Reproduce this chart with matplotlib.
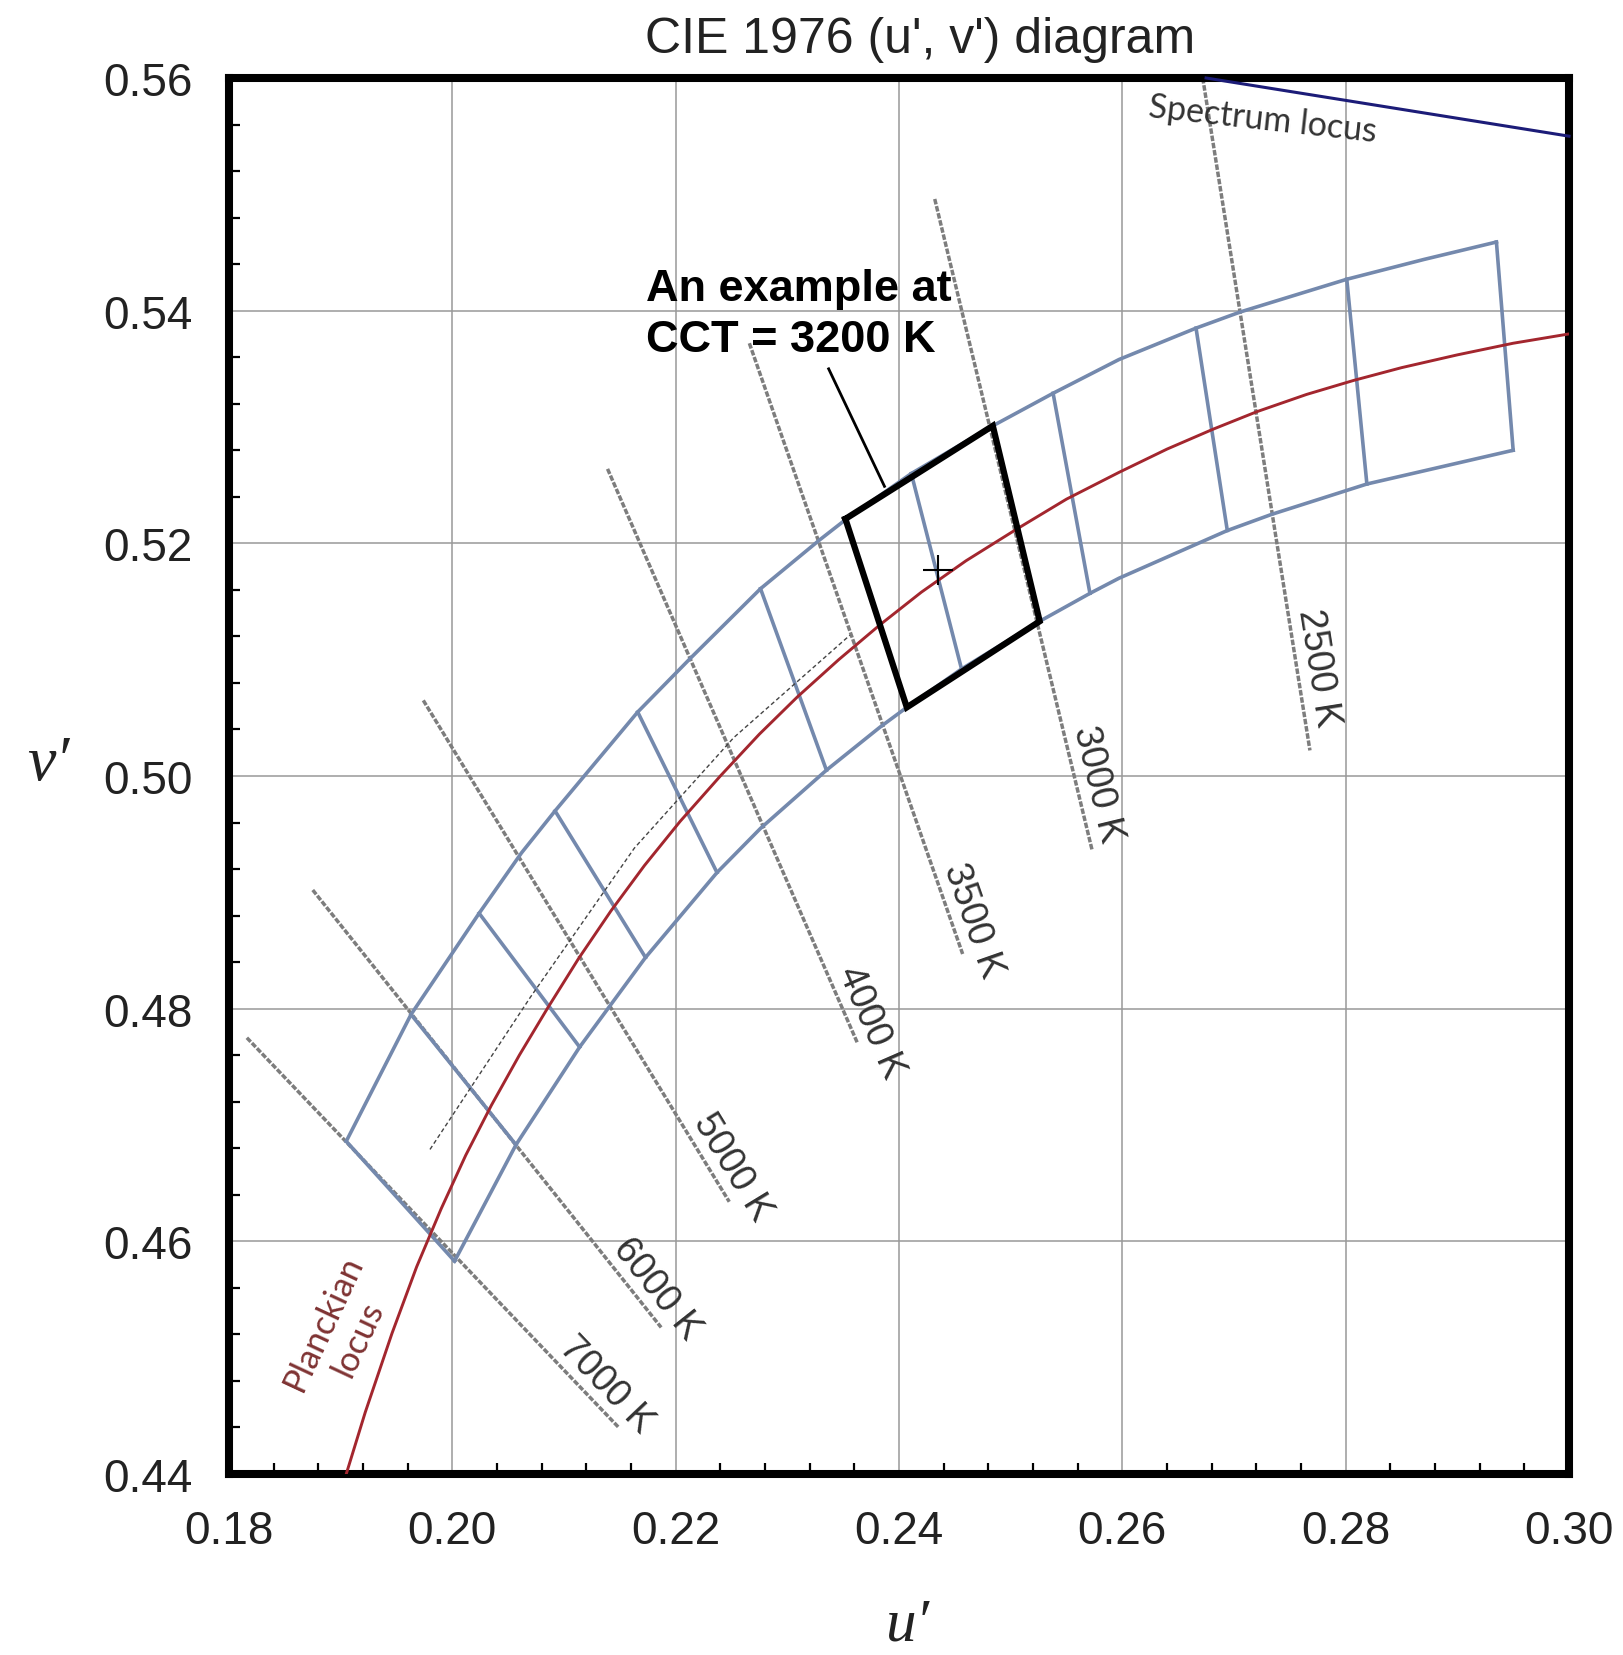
import numpy as np
import matplotlib
matplotlib.use('Agg')
import matplotlib.pyplot as plt
from matplotlib.ticker import MultipleLocator

# ---- data (u', v') ----
planck_u = [0.1905, 0.1922, 0.1946, 0.1968, 0.1990, 0.2012, 0.2035, 0.2060, 0.2085, 0.2113,
            0.2142, 0.2172, 0.2204, 0.2240, 0.2275, 0.2309, 0.2346, 0.2383, 0.2420, 0.2460,
            0.2505, 0.2550, 0.2597, 0.2640, 0.2681, 0.2720, 0.2765, 0.2807, 0.2850, 0.2900,
            0.2950, 0.3000]
planck_v = [0.4400, 0.4453, 0.4521, 0.4578, 0.4628, 0.4674, 0.4717, 0.4760, 0.4800, 0.4843,
            0.4884, 0.4923, 0.4961, 0.5000, 0.5036, 0.5068, 0.5100, 0.5130, 0.5158, 0.5185,
            0.5212, 0.5238, 0.5261, 0.5281, 0.5298, 0.5313, 0.5328, 0.5340, 0.5351, 0.5362,
            0.5372, 0.5380]

# thin dashed curve just above the Planckian locus
dash_u = [0.1980, 0.2070, 0.2163, 0.2252, 0.2356]
dash_v = [0.4679, 0.4810, 0.4938, 0.5033, 0.5121]

spectrum_u = [0.2675, 0.3000]
spectrum_v = [0.5600, 0.5550]

# quadrangle boundaries
upper_u = [0.1905, 0.1963, 0.2024, 0.2062, 0.2092, 0.2166, 0.2213, 0.2276, 0.2329, 0.2353,
           0.2411, 0.2484, 0.2538, 0.2597, 0.2666, 0.2706, 0.2801, 0.2870, 0.2935]
upper_v = [0.4686, 0.4795, 0.4882, 0.4934, 0.4970, 0.5055, 0.5101, 0.5161, 0.5203, 0.5221,
           0.5260, 0.5301, 0.5329, 0.5358, 0.5385, 0.5399, 0.5427, 0.5444, 0.5459]
lower_u = [0.2002, 0.2057, 0.2114, 0.2173, 0.2237, 0.2276, 0.2335, 0.2383, 0.2407, 0.2456,
           0.2526, 0.2571, 0.2597, 0.2694, 0.2734, 0.2819, 0.2950]
lower_v = [0.4583, 0.4683, 0.4767, 0.4844, 0.4917, 0.4955, 0.5005, 0.5042, 0.5059, 0.5092,
           0.5133, 0.5157, 0.5170, 0.5211, 0.5225, 0.5251, 0.5280]

# cross lines of the quadrangles (top end, bottom end)
cross_top_u = [0.1905, 0.1963, 0.2024, 0.2092, 0.2166, 0.2276, 0.2411, 0.2538, 0.2666, 0.2801, 0.2935]
cross_top_v = [0.4686, 0.4795, 0.4882, 0.4970, 0.5055, 0.5161, 0.5260, 0.5329, 0.5385, 0.5427, 0.5459]
cross_bot_u = [0.2002, 0.2057, 0.2114, 0.2173, 0.2237, 0.2335, 0.2456, 0.2571, 0.2694, 0.2819, 0.2950]
cross_bot_v = [0.4583, 0.4683, 0.4767, 0.4844, 0.4917, 0.5005, 0.5092, 0.5157, 0.5211, 0.5251, 0.5280]

# example quadrangle at CCT = 3200 K
box_u = [0.2352, 0.2484, 0.2526, 0.2407, 0.2352]
box_v = [0.5221, 0.5301, 0.5133, 0.5059, 0.5221]
center_u, center_v = 0.2435, 0.5177
pointer_u = [0.2337, 0.2387]
pointer_v = [0.5350, 0.5249]

# isotherms
iso_labels = ['2500 K', '3000 K', '3500 K', '4000 K', '5000 K', '6000 K', '7000 K']
iso_top_u = [0.2672, 0.2432, 0.2266, 0.2139, 0.1974, 0.1875, 0.1816]
iso_top_v = [0.5600, 0.5496, 0.5372, 0.5264, 0.5065, 0.4902, 0.4775]
iso_bot_u = [0.2768, 0.2573, 0.2457, 0.2363, 0.2248, 0.2187, 0.2149]
iso_bot_v = [0.5022, 0.4936, 0.4847, 0.4770, 0.4634, 0.4526, 0.4440]
# distance (px) from the lower end of each isotherm back to the start of its label
iso_label_back = [140, 123, 88, 74, 88, 93, 100]

xticks = [0.18, 0.20, 0.22, 0.24, 0.26, 0.28, 0.30]
yticks = [0.44, 0.46, 0.48, 0.50, 0.52, 0.54, 0.56]

fig = plt.figure(figsize=(16.24, 16.56), dpi=100)
ax = fig.add_axes([229 / 1624, 1 - 1475 / 1656, 1340 / 1624, 1396 / 1656])
ax.set_xlim(0.18, 0.30)
ax.set_ylim(0.44, 0.56)

sans = 'Liberation Sans'
quad_color = '#7489ad'
iso_color = '#7d7d7d'

# grid and ticks
ax.set_xticks(xticks)
ax.set_yticks(yticks)
ax.set_xticklabels(['%.2f' % t for t in xticks], fontsize=33, family=sans, color='#222222')
ax.set_yticklabels(['%.2f' % t for t in yticks], fontsize=33, family=sans, color='#222222')
ax.xaxis.set_minor_locator(MultipleLocator(0.004))
ax.yaxis.set_minor_locator(MultipleLocator(0.004))
ax.tick_params(which='both', direction='in', top=False, right=False)
ax.tick_params(which='major', length=0, pad=25)
ax.tick_params(axis='y', which='major', pad=26)
ax.tick_params(which='minor', length=8, width=1.6)
ax.grid(True, which='major', color='#999999', lw=1.1)
ax.set_axisbelow(True)
for s in ax.spines.values():
    s.set_linewidth(5.8)

# isotherms
for i in range(len(iso_labels)):
    ax.plot([iso_top_u[i], iso_bot_u[i]], [iso_top_v[i], iso_bot_v[i]],
            color=iso_color, lw=2.5, ls=(0, (1.6, 0.5)), zorder=2)

# quadrangles
ax.plot(upper_u, upper_v, color=quad_color, lw=2.6, zorder=3)
ax.plot(lower_u, lower_v, color=quad_color, lw=2.6, zorder=3)
for i in range(len(cross_top_u)):
    ax.plot([cross_top_u[i], cross_bot_u[i]], [cross_top_v[i], cross_bot_v[i]],
            color=quad_color, lw=2.6, zorder=3)

# loci
ax.plot(planck_u, planck_v, color='#a3262e', lw=2.1, zorder=4)
ax.plot(dash_u, dash_v, color='#444444', lw=1.0, ls=(0, (3, 2)), zorder=4)
ax.plot(spectrum_u, spectrum_v, color='#1c1c78', lw=2.2, zorder=4, clip_on=False)

# example box
ax.plot(box_u, box_v, color='black', lw=4.5, solid_joinstyle='miter', zorder=5)
ax.plot([center_u], [center_v], marker='+', color='black', ms=22, mew=1.5, zorder=6)
ax.plot(pointer_u, pointer_v, color='black', lw=2.0, zorder=5)

ax.text(0.2173, 0.5409, 'An example at', fontsize=32.5, fontweight='bold', family=sans,
        ha='left', va='baseline', zorder=6)
ax.text(0.2173, 0.5365, 'CCT = 3200 K', fontsize=32.5, fontweight='bold', family=sans,
        ha='left', va='baseline', zorder=6)

# isotherm labels, running down along each line
for i in range(len(iso_labels)):
    p0 = ax.transData.transform((iso_top_u[i], iso_top_v[i]))
    p1 = ax.transData.transform((iso_bot_u[i], iso_bot_v[i]))
    d = p1 - p0
    d = d / np.hypot(d[0], d[1])
    perp = np.array([-d[1], d[0]])
    ang = np.degrees(np.arctan2(d[1], d[0]))
    start = p1 - d * iso_label_back[i] + perp * 3
    xs, ys = ax.transData.inverted().transform(start)
    ax.text(xs, ys, iso_labels[i], rotation=ang, rotation_mode='anchor',
            ha='left', va='bottom', fontsize=27, family=sans, color='#333333', zorder=6)

ax.text(0.2623, 0.5567, 'Spectrum locus', rotation=-6.3, rotation_mode='anchor',
        ha='left', va='baseline', fontsize=24.5, family='Lato', color='#333333', zorder=6)
ax.text(0.1900, 0.4524, 'Planckian\nlocus', rotation=65, rotation_mode='anchor',
        ha='center', va='center', fontsize=25, family='Lato', color='#7f3333',
        linespacing=1.25, zorder=6)

fig.text(920 / 1624, 1 - 53 / 1656, "CIE 1976 (u', v') diagram", fontsize=36, family=sans,
         ha='center', va='baseline', color='#222222')
fig.text(48 / 1624, 1 - 765 / 1656, 'v\u2032', fontsize=46, family='Liberation Serif',
         style='italic', ha='center', va='center', color='#222222')
fig.text(908 / 1624, 2 / 1656, 'u\u2032', fontsize=44, family='Liberation Serif',
         style='italic', ha='center', va='bottom', color='#222222')

fig.savefig('out.png', dpi=100)
